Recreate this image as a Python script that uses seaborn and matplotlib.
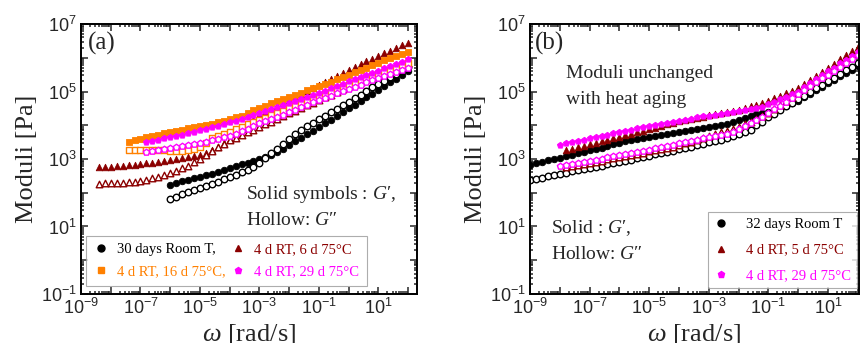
import numpy as np
import pandas as pd
import matplotlib
matplotlib.use("Agg")
import matplotlib.pyplot as plt
import seaborn as sns
from matplotlib.lines import Line2D
from matplotlib.ticker import LogLocator, FuncFormatter, NullFormatter

# log10(omega) grid, shared; each series uses the tail that matches its length
LOGW = [-9.0, -8.8, -8.6, -8.4, -8.2, -8.0, -7.8, -7.6, -7.4, -7.2,
        -7.0, -6.8, -6.6, -6.4, -6.2, -6.0, -5.8, -5.6, -5.4, -5.2,
        -5.0, -4.8, -4.6, -4.4, -4.2, -4.0, -3.8, -3.6, -3.4, -3.2,
        -3.0, -2.8, -2.6, -2.4, -2.2, -2.0, -1.8, -1.6, -1.4, -1.2,
        -1.0, -0.8, -0.6, -0.4, -0.2, 0.0, 0.2, 0.4, 0.6, 0.8,
        1.0, 1.2, 1.4, 1.6, 1.8, 2.0]

# panel (a), log10 moduli
A_BLACK_GP = [2.23, 2.29, 2.34, 2.39, 2.43, 2.48, 2.53, 2.57, 2.62, 2.67,
              2.73, 2.78, 2.84, 2.89, 2.95, 3.01, 3.06, 3.12, 3.20, 3.31,
              3.42, 3.52, 3.63, 3.74, 3.84, 3.95, 4.06, 4.17, 4.28, 4.39,
              4.50, 4.61, 4.72, 4.83, 4.94, 5.05, 5.16, 5.27, 5.38, 5.49, 5.60]
A_BLACK_GPP = [1.80, 1.88, 1.95, 2.01, 2.07, 2.13, 2.19, 2.26, 2.33, 2.40,
               2.46, 2.53, 2.60, 2.68, 2.75, 2.89, 3.03, 3.17, 3.31, 3.45,
               3.59, 3.73, 3.87, 3.97, 4.08, 4.18, 4.28, 4.39, 4.49, 4.60,
               4.70, 4.80, 4.91, 5.01, 5.12, 5.22, 5.32, 5.43, 5.53, 5.63, 5.72]
A_RED_GP = [2.75, 2.76, 2.77, 2.79, 2.80, 2.81, 2.83, 2.85, 2.87, 2.89,
            2.92, 2.94, 2.97, 3.00, 3.03, 3.06, 3.09, 3.12, 3.19, 3.26,
            3.36, 3.48, 3.60, 3.74, 3.88, 4.02, 4.16, 4.30, 4.39, 4.48,
            4.57, 4.66, 4.75, 4.84, 4.93, 5.02, 5.11, 5.20, 5.29, 5.38,
            5.47, 5.56, 5.65, 5.73, 5.81, 5.89, 5.97, 6.05, 6.13, 6.21,
            6.29, 6.37, 6.45]
A_RED_GPP = [2.27, 2.28, 2.28, 2.29, 2.30, 2.31, 2.33, 2.35, 2.39, 2.43,
             2.48, 2.53, 2.58, 2.65, 2.72, 2.80, 2.90, 3.00, 3.12, 3.24,
             3.35, 3.45, 3.55, 3.63, 3.71, 3.79, 3.87, 3.95, 4.03, 4.11,
             4.19, 4.27, 4.35, 4.43, 4.51, 4.59, 4.67, 4.75, 4.83, 4.91,
             4.99, 5.07, 5.15, 5.22, 5.29, 5.36, 5.43, 5.50, 5.57, 5.64,
             5.71, 5.78, 5.85]
A_ORANGE_GP = [3.50, 3.55, 3.59, 3.64, 3.68, 3.72, 3.76, 3.80, 3.84, 3.87,
               3.91, 3.94, 3.98, 4.02, 4.05, 4.09, 4.14, 4.18, 4.23, 4.27,
               4.35, 4.45, 4.52, 4.58, 4.65, 4.72, 4.78, 4.85, 4.91, 4.97,
               5.03, 5.09, 5.15, 5.22, 5.29, 5.36, 5.43, 5.50, 5.57, 5.64,
               5.71, 5.78, 5.85, 5.92, 5.98, 6.05, 6.11, 6.18]
A_ORANGE_GPP = [3.27, 3.27, 3.27, 3.27, 3.27, 3.27, 3.26, 3.25, 3.25, 3.25,
                3.27, 3.31, 3.35, 3.48, 3.62, 3.69, 3.75, 3.80, 3.88, 3.96,
                4.03, 4.09, 4.15, 4.22, 4.29, 4.36, 4.43, 4.50, 4.57, 4.64,
                4.71, 4.78, 4.85, 4.92, 4.99, 5.06, 5.13, 5.20, 5.26, 5.33,
                5.39, 5.46, 5.52, 5.58, 5.65, 5.71, 5.78, 5.84]
A_MAG_GP = [3.50, 3.53, 3.57, 3.61, 3.65, 3.69, 3.72, 3.77, 3.81, 3.86,
            3.90, 3.94, 3.99, 4.04, 4.09, 4.14, 4.19, 4.25, 4.30, 4.36,
            4.42, 4.48, 4.53, 4.59, 4.65, 4.71, 4.77, 4.83, 4.89, 4.95,
            5.02, 5.09, 5.16, 5.23, 5.30, 5.36, 5.43, 5.49, 5.56, 5.62,
            5.69, 5.75, 5.82, 5.88, 5.95]
A_MAG_GPP = [3.21, 3.23, 3.26, 3.29, 3.32, 3.35, 3.38, 3.41, 3.44, 3.47,
             3.51, 3.55, 3.60, 3.64, 3.68, 3.74, 3.82, 3.90, 3.98, 4.06,
             4.12, 4.19, 4.25, 4.31, 4.38, 4.46, 4.53, 4.61, 4.68, 4.75,
             4.82, 4.88, 4.95, 5.01, 5.08, 5.14, 5.20, 5.27, 5.33, 5.39,
             5.45, 5.51, 5.57, 5.63, 5.69]

# panel (b), log10 moduli
B_BLACK_GP = [2.82, 2.87, 2.91, 2.96, 3.00, 3.04, 3.09, 3.13, 3.17, 3.21,
              3.26, 3.30, 3.34, 3.39, 3.43, 3.48, 3.52, 3.56, 3.59, 3.62,
              3.65, 3.68, 3.71, 3.74, 3.77, 3.80, 3.83, 3.86, 3.89, 3.92,
              3.95, 3.98, 4.01, 4.04, 4.09, 4.15, 4.21, 4.27, 4.32, 4.35,
              4.38, 4.45, 4.51, 4.58, 4.65, 4.72, 4.83, 4.93, 5.04, 5.14,
              5.25, 5.35, 5.45, 5.55, 5.65, 5.75]
B_BLACK_GPP = [2.38, 2.42, 2.45, 2.49, 2.52, 2.56, 2.59, 2.63, 2.66, 2.70,
               2.73, 2.77, 2.80, 2.84, 2.87, 2.91, 2.94, 2.98, 3.02, 3.06,
               3.10, 3.14, 3.18, 3.22, 3.25, 3.29, 3.33, 3.37, 3.41, 3.45,
               3.49, 3.52, 3.56, 3.63, 3.69, 3.75, 3.81, 3.87, 4.00, 4.11,
               4.23, 4.34, 4.45, 4.56, 4.66, 4.77, 4.88, 4.98, 5.09, 5.19,
               5.30, 5.41, 5.52, 5.63, 5.73, 5.84]
B_RED_GP = [3.26, 3.30, 3.35, 3.39, 3.43, 3.48, 3.52, 3.56, 3.61, 3.65,
            3.70, 3.74, 3.79, 3.84, 3.89, 3.93, 3.98, 4.03, 4.07, 4.12,
            4.15, 4.19, 4.22, 4.25, 4.29, 4.32, 4.35, 4.38, 4.42, 4.45,
            4.50, 4.56, 4.61, 4.67, 4.72, 4.80, 4.87, 4.95, 5.02, 5.10,
            5.22, 5.34, 5.46, 5.58, 5.70, 5.82, 5.95, 6.07, 6.20, 6.32]
B_RED_GPP = [2.75, 2.78, 2.82, 2.85, 2.89, 2.92, 2.95, 2.99, 3.02, 3.06,
             3.09, 3.13, 3.16, 3.19, 3.23, 3.26, 3.30, 3.33, 3.37, 3.40,
             3.46, 3.51, 3.57, 3.62, 3.68, 3.73, 3.79, 3.84, 3.90, 3.95,
             4.03, 4.11, 4.19, 4.27, 4.35, 4.47, 4.59, 4.71, 4.83, 4.95,
             5.08, 5.21, 5.34, 5.47, 5.60, 5.72, 5.84, 5.96, 6.08, 6.20]
B_MAG_GP = [3.42, 3.46, 3.50, 3.53, 3.57, 3.61, 3.65, 3.68, 3.72, 3.76,
            3.80, 3.83, 3.87, 3.91, 3.94, 3.98, 4.02, 4.05, 4.08, 4.11,
            4.14, 4.17, 4.20, 4.23, 4.26, 4.28, 4.31, 4.34, 4.37, 4.40,
            4.43, 4.46, 4.49, 4.52, 4.55, 4.62, 4.70, 4.77, 4.85, 4.92,
            5.00, 5.12, 5.24, 5.36, 5.48, 5.60, 5.71, 5.83, 5.94, 6.06, 6.17]
B_MAG_GPP = [2.78, 2.81, 2.85, 2.88, 2.91, 2.95, 2.98, 3.01, 3.05, 3.08,
             3.12, 3.15, 3.18, 3.22, 3.25, 3.28, 3.32, 3.35, 3.39, 3.42,
             3.46, 3.50, 3.53, 3.57, 3.61, 3.64, 3.68, 3.71, 3.75, 3.81,
             3.90, 3.98, 4.07, 4.16, 4.24, 4.35, 4.47, 4.58, 4.70, 4.81,
             4.92, 5.04, 5.16, 5.28, 5.40, 5.50, 5.62, 5.73, 5.85, 5.96, 6.08]

LABELS_A = ["30 days Room T,", "4 d RT, 6 d 75°C", "4 d RT, 16 d 75°C,", "4 d RT, 29 d 75°C"]
LABELS_B = ["32 days Room T", "4 d RT, 5 d 75°C", "4 d RT, 29 d 75°C"]

BLACK, RED, ORANGE, MAG = "#000000", "#8b0000", "#ff8000", "#ff00ff"

sns.set_style("ticks")
plt.rcParams["font.family"] = ["Liberation Serif", "DejaVu Serif"]
plt.rcParams["mathtext.fontset"] = "custom"
plt.rcParams["mathtext.rm"] = "Liberation Sans"
plt.rcParams["mathtext.it"] = "Liberation Serif:italic"


def frame(logy):
    logy = np.asarray(logy)
    return pd.DataFrame({"w": 10 ** np.array(LOGW[-len(logy):]), "g": 10 ** logy})


def draw(ax, gp, gpp, color, marker):
    sns.scatterplot(data=frame(gp), x="w", y="g", ax=ax, marker=marker, s=22,
                    color=color, edgecolor=color, linewidth=0.6, legend=False)
    sns.scatterplot(data=frame(gpp), x="w", y="g", ax=ax, marker=marker, s=22,
                    color="white", edgecolor=color, linewidth=1.0, legend=False)


def decade_label(v, pos):
    e = int(round(np.log10(v)))
    if e % 2 == 0:
        return ""
    return r"$\mathrm{10^{%d}}$" % e


def style_axes(ax, xmax):
    ax.set_xscale("log")
    ax.set_yscale("log")
    ax.set_xlim(1e-9, xmax)
    ax.set_ylim(1e-1, 1e7)
    for a in (ax.xaxis, ax.yaxis):
        a.set_major_locator(LogLocator(base=10, numticks=30))
        a.set_minor_locator(LogLocator(base=10, subs=np.arange(2, 10), numticks=30))
        a.set_major_formatter(FuncFormatter(decade_label))
        a.set_minor_formatter(NullFormatter())
    ax.tick_params(which="both", direction="in", top=True, right=True, width=1.1)
    ax.tick_params(which="major", length=5, labelsize=13, pad=3)
    ax.tick_params(which="minor", length=2.5)
    for sp in ax.spines.values():
        sp.set_linewidth(1.4)
        sp.set_color("black")
    ax.set_xlabel(r"$\omega$ [rad/s]", fontsize=19, labelpad=3)
    ax.set_ylabel("Moduli [Pa]", fontsize=19, labelpad=2)


def handle(color, marker):
    return Line2D([], [], linestyle="none", marker=marker, markersize=5,
                  markerfacecolor=color, markeredgecolor=color)


fig = plt.figure(figsize=(8.6, 3.43), dpi=100)
ax1 = fig.add_axes([0.0942, 0.1429, 0.3907, 0.7871])
ax2 = fig.add_axes([0.6163, 0.1429, 0.3825, 0.7871])

draw(ax1, A_BLACK_GP, A_BLACK_GPP, BLACK, "o")
draw(ax1, A_RED_GP, A_RED_GPP, RED, "^")
draw(ax1, A_ORANGE_GP, A_ORANGE_GPP, ORANGE, "s")
draw(ax1, A_MAG_GP, A_MAG_GPP, MAG, "p")
style_axes(ax1, 10 ** 2.3)

draw(ax2, B_BLACK_GP, B_BLACK_GPP, BLACK, "o")
draw(ax2, B_RED_GP, B_RED_GPP, RED, "^")
draw(ax2, B_MAG_GP, B_MAG_GPP, MAG, "p")
style_axes(ax2, 10 ** 2.04)

ax1.text(0.02, 0.97, "(a)", transform=ax1.transAxes, fontsize=18, va="top", ha="left")
ax1.text(0.49, 0.35, "Solid symbols : $G$′,", transform=ax1.transAxes, fontsize=14)
ax1.text(0.49, 0.255, "Hollow: $G$″", transform=ax1.transAxes, fontsize=14)

ax2.text(0.015, 0.97, "(b)", transform=ax2.transAxes, fontsize=18, va="top", ha="left")
ax2.text(0.11, 0.8, "Moduli unchanged", transform=ax2.transAxes, fontsize=14)
ax2.text(0.11, 0.705, "with heat aging", transform=ax2.transAxes, fontsize=14)
ax2.text(0.065, 0.225, "Solid : $G$′,", transform=ax2.transAxes, fontsize=14)
ax2.text(0.065, 0.13, "Hollow: $G$″", transform=ax2.transAxes, fontsize=14)

# legend (a): two rows, column-major order
ha = [handle(BLACK, "o"), handle(ORANGE, "s"), handle(RED, "^"), handle(MAG, "p")]
la = [LABELS_A[0], LABELS_A[2], LABELS_A[1], LABELS_A[3]]
leg1 = ax1.legend(ha, la, ncol=2, loc="lower left", bbox_to_anchor=(0.015, 0.03),
                  borderaxespad=0, fontsize=10.5, frameon=True, fancybox=False,
                  handlelength=1.0, handletextpad=0.6, columnspacing=0.4,
                  labelspacing=0.62, borderpad=0.5)
leg1.get_frame().set_edgecolor("#999999")
leg1.get_frame().set_linewidth(0.8)
for t, c in zip(leg1.get_texts(), [BLACK, ORANGE, RED, MAG]):
    t.set_color(c)

hb = [handle(BLACK, "o"), handle(RED, "^"), handle(MAG, "p")]
leg2 = ax2.legend(hb, LABELS_B, loc="lower right", bbox_to_anchor=(0.994, 0.022),
                  borderaxespad=0, fontsize=10.5, frameon=True, fancybox=False,
                  handlelength=1.0, handletextpad=1.2, labelspacing=0.85, borderpad=0.4)
leg2.get_frame().set_edgecolor("#999999")
leg2.get_frame().set_linewidth(0.8)
for t, c in zip(leg2.get_texts(), [BLACK, RED, MAG]):
    t.set_color(c)

fig.savefig("out.png", dpi=100)
